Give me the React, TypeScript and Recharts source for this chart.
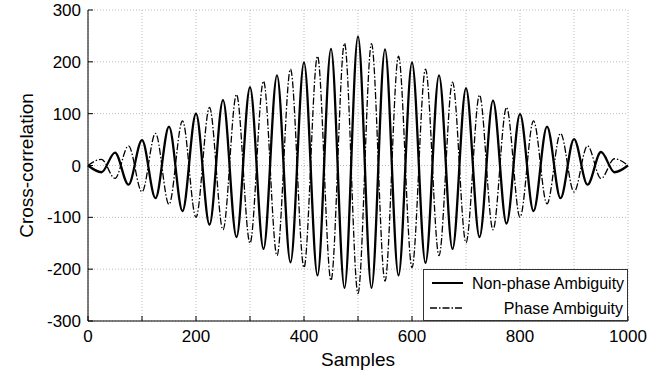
import { CartesianGrid, Legend, Line, LineChart, XAxis, YAxis } from 'recharts'

// valores, un extremo cada 25 muestras
const samples = [
  0, 25, 50, 75, 100, 125, 150, 175, 200, 225, 250, 275, 300, 325, 350, 375, 400, 425, 450, 475, 500,
  525, 550, 575, 600, 625, 650, 675, 700, 725, 750, 775, 800, 825, 850, 875, 900, 925, 950, 975, 1000
]
const nonPhase = [
  0, -13, 25, -37, 49, -63, 75, -88, 100, -114, 126, -138, 151, -161, 174, -187, 199, -212, 225, -236, 249,
  -236, 224, -212, 199, -188, 174, -161, 149, -138, 125, -112, 99, -88, 75, -63, 51, -37, 26, -13, 0
]
const phase = [
  0, 12, -25, 38, -51, 62, -75, 86, -100, 112, -124, 137, -150, 163, -174, 186, -197, 211, -222, 236, -247,
  235, -223, 211, -197, 186, -174, 161, -149, 136, -124, 112, -100, 86, -74, 62, -51, 38, -25, 13, 0
]
const xTicks = [0, 100, 200, 300, 400, 500, 600, 700, 800, 900, 1000]
const yTicks = [-300, -200, -100, 0, 100, 200, 300]

const data = samples.map((s, i) => ({ sample: s, nonPhase: nonPhase[i], phase: phase[i] }))

const FONT = '"Liberation Sans", Arial, Helvetica, sans-serif'
const DASH_DOT = '7 2 1.5 2'

function BottomTick ({ x, y, payload }: any) {
  return (
    <g>
      <line x1={x} y1={y} x2={x} y2={y - 5} stroke='#000' />
      {payload.value % 200 === 0 && (
        <text x={x} y={y + 9} dy='0.71em' textAnchor='middle' fontSize={17} fontFamily={FONT} fill='#000'>
          {payload.value}
        </text>
      )}
    </g>
  )
}

function TopTick ({ x, y }: any) {
  return <line x1={x} y1={y} x2={x} y2={y + 5} stroke='#000' />
}

function LeftTick ({ x, y, payload }: any) {
  return (
    <g>
      <line x1={x} y1={y} x2={x + 5} y2={y} stroke='#000' />
      <text x={x - 7} y={y} dy='0.355em' textAnchor='end' fontSize={17} fontFamily={FONT} fill='#000'>
        {payload.value}
      </text>
    </g>
  )
}

function RightTick ({ x, y }: any) {
  return <line x1={x} y1={y} x2={x - 5} y2={y} stroke='#000' />
}

function YTitle ({ viewBox }: any) {
  const cy = viewBox.y + viewBox.height / 2
  return (
    <text x={26} y={cy} transform={`rotate(-90 26 ${cy})`} textAnchor='middle' dominantBaseline='central'
      fontSize={19} fontFamily={FONT} fill='#000'>
      Cross-correlation
    </text>
  )
}

function XTitle ({ viewBox }: any) {
  return (
    <text x={viewBox.x + viewBox.width / 2} y={366} textAnchor='middle' fontSize={19} fontFamily={FONT} fill='#000'>
      Samples
    </text>
  )
}

function LegendBox () {
  return (
    <svg width={205} height={52} style={{ display: 'block', background: '#fff' }}>
      <rect x={0.5} y={0.5} width={204} height={51} fill='#fff' stroke='#333' />
      <line x1={9} y1={14} x2={40} y2={14} stroke='#000' strokeWidth={2} />
      <text x={49} y={14} dominantBaseline='central' fontSize={16} fontFamily={FONT} fill='#000'>Non-phase Ambiguity</text>
      <line x1={7} y1={39} x2={39} y2={39} stroke='#000' strokeWidth={1.3} strokeDasharray={DASH_DOT} />
      <text x={200} y={39} dominantBaseline='central' textAnchor='end' fontSize={16} fontFamily={FONT} fill='#000'>Phase Ambiguity</text>
    </svg>
  )
}

export default function App () {
  return (
    <div style={{ position: 'absolute', left: 0, top: 0, background: '#fff' }}>
      <LineChart width={663} height={379} data={data} margin={{ top: 10, right: 35, left: 0, bottom: 0 }}>
        <CartesianGrid stroke='#bbb' strokeDasharray='1 2' />
        <XAxis dataKey='sample' type='number' domain={[0, 1000]} ticks={xTicks} interval={0} height={58}
          tickSize={0} tickMargin={0} tickLine={false} tick={<BottomTick />} axisLine={{ stroke: '#000' }}
          label={<XTitle />} />
        <XAxis xAxisId='top' orientation='top' dataKey='sample' type='number' domain={[0, 1000]} ticks={xTicks}
          interval={0} height={0} tickSize={0} tickMargin={0} tickLine={false} tick={<TopTick />} axisLine={{ stroke: '#000' }} />
        <YAxis type='number' domain={[-300, 300]} ticks={yTicks} interval={0} width={88}
          tickSize={0} tickMargin={0} tickLine={false} tick={<LeftTick />} axisLine={{ stroke: '#000' }}
          label={<YTitle />} />
        <YAxis yAxisId='right' orientation='right' type='number' domain={[-300, 300]} ticks={yTicks} interval={0}
          width={0} tickSize={0} tickMargin={0} tickLine={false} tick={<RightTick />} axisLine={{ stroke: '#000' }} />
        <Line type='monotone' dataKey='nonPhase' name='Non-phase Ambiguity' stroke='#000' strokeWidth={2.3}
          dot={false} isAnimationActive={false} />
        <Line type='monotone' dataKey='phase' name='Phase Ambiguity' stroke='#000' strokeWidth={1.3}
          strokeDasharray={DASH_DOT} dot={false} isAnimationActive={false} />
        <Legend layout='horizontal' verticalAlign='middle' align='center' content={<LegendBox />}
          wrapperStyle={{ position: 'absolute', left: 423, top: 269, width: 205, height: 52 }} />
      </LineChart>
    </div>
  )
}
